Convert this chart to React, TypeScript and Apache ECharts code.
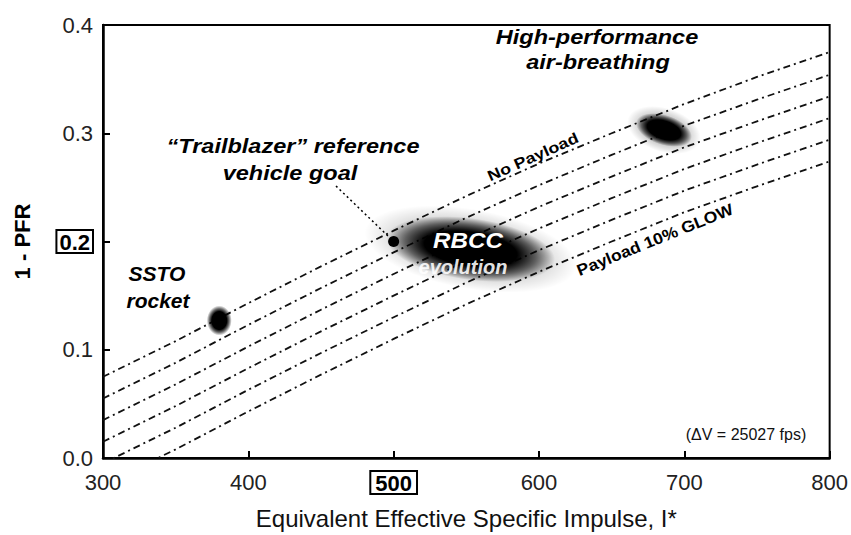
import React, { useEffect, useRef } from "react";
import * as echarts from "echarts";

// Equivalent effective specific impulse (x axis sample points)
const isp = [300, 350, 400, 450, 500, 550, 600, 650, 700, 750, 800];
// 1 - PFR curves for payload fractions 0% .. 10% of GLOW
const payload0 = [0.075, 0.108, 0.143, 0.177, 0.21, 0.242, 0.272, 0.3, 0.327, 0.352, 0.375];
const payload2 = [0.055, 0.088, 0.123, 0.157, 0.19, 0.222, 0.252, 0.28, 0.307, 0.331, 0.354];
const payload4 = [0.035, 0.068, 0.103, 0.137, 0.17, 0.202, 0.232, 0.26, 0.287, 0.311, 0.334];
const payload6 = [0.015, 0.048, 0.083, 0.117, 0.15, 0.182, 0.212, 0.24, 0.267, 0.291, 0.314];
const payload8 = [-0.005, 0.028, 0.063, 0.097, 0.13, 0.162, 0.192, 0.22, 0.247, 0.271, 0.294];
const payload10 = [-0.025, 0.008, 0.043, 0.077, 0.11, 0.142, 0.172, 0.2, 0.227, 0.251, 0.274];
const payloadCurves = [payload0, payload2, payload4, payload6, payload8, payload10];
const payloadNames = ["0%", "2%", "4%", "6%", "8%", "10%"];

// Vehicle regions (I*, 1-PFR)
const sstoRocket = [380, 0.127];
const highPerfAirBreathing = [686, 0.303];
const rbccEvolution = [553, 0.193];
const trailblazerGoal = [500, 0.2];

const FONT = '"Liberation Sans", Arial, Helvetica, sans-serif';

function blobGradient(core: number, maxAlpha: number) {
  return new echarts.graphic.RadialGradient(0.5, 0.5, 0.5, [
    { offset: 0, color: `rgba(0,0,0,${maxAlpha})` },
    { offset: core, color: `rgba(0,0,0,${maxAlpha})` },
    { offset: (core + 1) / 2, color: `rgba(0,0,0,${maxAlpha * 0.55})` },
    { offset: 1, color: "rgba(0,0,0,0)" },
  ]);
}

export default function App() {
  const ref = useRef<HTMLDivElement>(null);
  useEffect(() => {
    if (!ref.current) return;
    const chart = echarts.init(ref.current, undefined, { renderer: "svg" });

    const lineSeries = payloadCurves.map((vals, i) => ({
      type: "line",
      name: payloadNames[i],
      data: isp.map((x, j) => [x, vals[j]]),
      symbol: "none",
      clip: true,
      z: 2,
      lineStyle: { color: "#111", width: 1.8, type: [7, 4, 2, 4] },
    }));

    const blob = (name: string, point: number[], size: number[], rotate: number, core: number, alpha: number) => ({
      type: "scatter",
      name,
      data: [point],
      symbol: "circle",
      symbolSize: size,
      symbolRotate: rotate,
      z: 3,
      itemStyle: { color: blobGradient(core, alpha), opacity: 1 },
    });

    const t = (text: string, x: number, y: number, opts: any = {}) => ({
      type: "text",
      x,
      y,
      z: 100,
      rotation: opts.rotation || 0,
      scaleX: opts.scaleX || 1,
      style: {
        text,
        fill: opts.fill || "#000",
        fontFamily: FONT,
        fontSize: opts.fontSize || 21,
        fontWeight: opts.fontWeight || "bold",
        fontStyle: opts.fontStyle || "italic",
        align: "center",
        verticalAlign: "middle",
      },
    });

    chart.setOption({
      animation: false,
      backgroundColor: "#fff",
      grid: {
        left: 103,
        right: 21,
        top: 25,
        bottom: 75,
        show: true,
        borderColor: "#000",
        borderWidth: 2,
        backgroundColor: "transparent",
      },
      xAxis: {
        type: "value",
        min: 300,
        max: 800,
        interval: 100,
        name: "Equivalent Effective Specific Impulse, I*",
        nameLocation: "middle",
        nameGap: 48,
        nameTextStyle: { fontFamily: FONT, fontSize: 24, color: "#111" },
        axisLine: { show: true, onZero: false, lineStyle: { color: "#000", width: 2.5 } },
        axisTick: { show: true, inside: true, length: 7, lineStyle: { color: "#000", width: 2 } },
        splitLine: { show: false },
        axisLabel: {
          margin: 13,
          fontFamily: FONT,
          fontSize: 22,
          color: "#222",
          formatter: (v: number) => (v === 500 ? "{b|500}" : String(v)),
          rich: {
            b: {
              fontFamily: FONT,
              fontSize: 22,
              fontWeight: "bold",
              color: "#000",
              borderColor: "#000",
              borderWidth: 2,
              padding: [1, 5, 0, 5],
            },
          },
        },
      },
      yAxis: {
        type: "value",
        min: 0,
        max: 0.4,
        interval: 0.1,
        name: "1 - PFR",
        nameLocation: "middle",
        nameGap: 70,
        nameRotate: 90,
        nameTextStyle: { fontFamily: FONT, fontSize: 22, fontWeight: "bold", color: "#000" },
        axisLine: { show: true, lineStyle: { color: "#000", width: 2.5 } },
        axisTick: { show: true, inside: true, length: 7, lineStyle: { color: "#000", width: 2 } },
        splitLine: { show: false },
        axisLabel: {
          margin: 10,
          fontFamily: FONT,
          fontSize: 22,
          color: "#222",
          formatter: (v: number) => {
            const s = v.toFixed(1);
            return Math.abs(v - 0.2) < 1e-9 ? "{b|" + s + "}" : s;
          },
          rich: {
            b: {
              fontFamily: FONT,
              fontSize: 22,
              fontWeight: "bold",
              color: "#000",
              borderColor: "#000",
              borderWidth: 2,
              padding: [1, 3, 0, 3],
            },
          },
        },
      },
      series: [
        ...lineSeries,
        blob("SSTO rocket", sstoRocket, [25, 30], 0, 0.6, 1),
        blob("High-performance air-breathing halo", highPerfAirBreathing, [44, 76], 72, 0.3, 0.35),
        blob("High-performance air-breathing", highPerfAirBreathing, [30, 58], 72, 0.6, 1),
        blob("RBCC evolution halo", rbccEvolution, [80, 215], 80, 0.3, 0.3),
        blob("RBCC evolution", rbccEvolution, [62, 170], 82, 0.55, 1),
        {
          type: "scatter",
          name: "Trailblazer",
          data: [trailblazerGoal],
          symbol: "circle",
          symbolSize: 11,
          z: 4,
          itemStyle: { color: "#000", opacity: 1 },
        },
      ],
      graphic: [
        t("High-performance", 597, 37, { scaleX: 1.12 }),
        t("air-breathing", 598, 62, { scaleX: 1.12 }),
        t("\u201cTrailblazer\u201d reference", 293, 146, { scaleX: 1.12 }),
        t("vehicle goal", 290, 173, { scaleX: 1.12 }),
        t("SSTO", 157, 273, {}),
        t("rocket", 158, 300, {}),
        t("RBCC", 468, 240, { fill: "#fff", fontSize: 22, scaleX: 1.1 }),
        t("evolution", 463, 267, { fill: "rgba(255,255,255,0.9)", fontSize: 20 }),
        t("No Payload", 533, 157, { fontSize: 15, fontStyle: "normal", rotation: (24 * Math.PI) / 180, scaleX: 1.2 }),
        t("Payload 10% GLOW", 655, 240, { fontSize: 16, fontStyle: "normal", rotation: (22 * Math.PI) / 180, scaleX: 1.1 }),
        {
          type: "text",
          x: 746,
          y: 434,
          z: 100,
          style: {
            text: "(\u0394V = 25027 fps)",
            fill: "#111",
            fontFamily: FONT,
            fontSize: 16,
            align: "center",
            verticalAlign: "middle",
          },
        },
        {
          type: "line",
          z: 100,
          shape: { x1: 336, y1: 186, x2: 388, y2: 236 },
          style: { stroke: "#000", lineWidth: 1.5, lineDash: [2, 3] },
        },
      ],
    });
    return () => chart.dispose();
  }, []);
  return (
    <div
      ref={ref}
      style={{ position: "fixed", left: 0, top: 0, width: 851, height: 535, background: "#fff" }}
    />
  );
}
